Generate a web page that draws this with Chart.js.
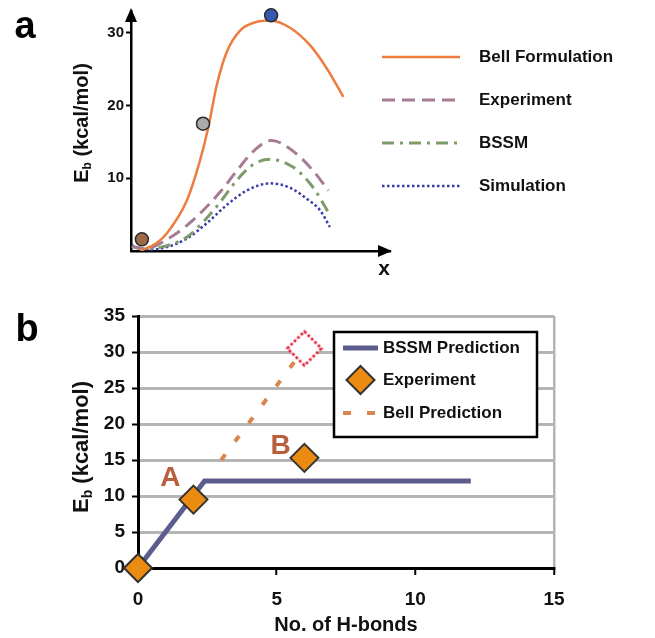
<!DOCTYPE html>
<html>
<head>
<meta charset="utf-8">
<title>Energy barrier vs number of H-bonds</title>
<script src="https://cdn.jsdelivr.net/npm/chart.js@4.4.1/dist/chart.umd.min.js"></script>
<style>
  body { margin: 0; background: #fff; }
  #wrap { position: relative; width: 655px; height: 638px; }
  canvas { position: absolute; left: 0; }
</style>
</head>
<body>
<div id="wrap">
  <canvas id="chartA" width="655" height="290" style="top:0"></canvas>
  <canvas id="chartB" width="655" height="348" style="top:290px"></canvas>
</div>
<script>
// panel a - sketch of the energy landscape (arbitrary x)
var bellX = [0.35, 0.99, 1.38, 2.15, 2.66, 2.98, 3.31, 3.69, 4.21, 4.85, 5.37, 6.14, 6.91, 7.56, 8.20];
var bellY = [0.0, 1.1, 2.4, 6.9, 12.4, 16.9, 22.8, 27.3, 30.3, 31.5, 31.7, 30.7, 28.3, 25.1, 21.2];
var expX = [0.03, 0.54, 1.44, 2.15, 2.79, 3.44, 4.08, 4.72, 5.42, 6.27, 7.04, 7.62];
var expY = [0.6, 0.3, 1.7, 3.5, 5.6, 8.1, 11.0, 13.7, 15.2, 13.7, 11.0, 8.3];
var bssmX = [0.03, 0.54, 1.24, 2.15, 2.79, 3.44, 4.08, 4.72, 5.37, 6.27, 7.04, 7.62];
var bssmY = [0.6, 0.3, 0.6, 1.9, 4.0, 6.7, 9.7, 11.9, 12.6, 11.5, 8.7, 5.3];
var simX = [0.03, 0.54, 1.24, 2.15, 2.92, 3.69, 4.46, 5.37, 6.14, 6.78, 7.30, 7.68];
var simY = [0.8, 0.2, 0.4, 1.7, 3.8, 6.3, 8.3, 9.3, 8.7, 7.2, 5.6, 3.3];
var dotX = [0.42, 2.78, 5.41];
var dotY = [1.6, 17.5, 32.4];
var dotColors = ['#9b6b48', '#ababab', '#3658b0'];

// panel b - Eb vs number of H-bonds
var bssmLineX = [0, 2.4, 12];
var bssmLineY = [0, 12.1, 12.1];
var hbondsExp = [0, 2, 6];
var ebExp = [0, 9.5, 15.3];
var bellLineX = [3, 6];
var bellLineY = [15, 30.5];
var tagText = ['A', 'B'];
var tagX = [1.17, 5.14];
var tagY = [12.5, 16.9];

var FONT = 'Arial, "Liberation Sans", sans-serif';
Chart.defaults.font.family = FONT;

function pts(xs, ys) {
  return xs.map(function (x, i) { return { x: x, y: ys[i] }; });
}

// dotted red diamond used as the end marker of the Bell prediction
var redDiamond = document.createElement('canvas');
redDiamond.width = 40; redDiamond.height = 40;
(function () {
  var c = redDiamond.getContext('2d');
  c.beginPath();
  c.moveTo(20, 3); c.lineTo(37, 20); c.lineTo(20, 37); c.lineTo(3, 20); c.closePath();
  c.fillStyle = '#fff'; c.fill();
  c.setLineDash([2.6, 2.2]);
  c.lineWidth = 2.6; c.strokeStyle = '#e0102a'; c.stroke();
})();

function drawEb(ctx, cx, cy, size) {
  var big = 'bold ' + size + 'px ' + FONT;
  var small = 'bold ' + Math.round(size * 0.62) + 'px ' + FONT;
  var rest = ' (kcal/mol)';
  ctx.save();
  ctx.translate(cx, cy);
  ctx.rotate(-Math.PI / 2);
  ctx.font = big;
  var wE = ctx.measureText('E').width, wR = ctx.measureText(rest).width;
  ctx.font = small;
  var wb = ctx.measureText('b').width;
  var x = -(wE + wb + wR) / 2;
  ctx.fillStyle = '#111';
  ctx.textBaseline = 'middle';
  ctx.font = big; ctx.fillText('E', x, 0);
  ctx.font = small; ctx.fillText('b', x + wE, size * 0.3);
  ctx.font = big; ctx.fillText(rest, x + wE + wb, 0);
  ctx.restore();
}

var yTitle = {
  id: 'yTitle',
  afterDraw: function (chart, args, o) { drawEb(chart.ctx, o.x, o.y, o.size); }
};

var panelTag = {
  id: 'panelTag',
  afterDraw: function (chart, args, o) {
    var ctx = chart.ctx;
    ctx.save();
    ctx.font = 'bold ' + o.size + 'px ' + FONT;
    ctx.fillStyle = '#000';
    ctx.textAlign = 'center';
    ctx.textBaseline = 'alphabetic';
    ctx.fillText(o.text, o.x, o.y);
    ctx.restore();
  }
};

var boxLegend = {
  id: 'boxLegend',
  afterDatasetsDraw: function (chart, args, o) {
    var ctx = chart.ctx;
    ctx.save();
    if (o.box) {
      ctx.fillStyle = '#fff';
      ctx.fillRect(o.box[0], o.box[1], o.box[2], o.box[3]);
      ctx.lineWidth = 2.5;
      ctx.strokeStyle = '#000';
      ctx.strokeRect(o.box[0], o.box[1], o.box[2], o.box[3]);
    }
    o.items.forEach(function (it) {
      var ds = chart.data.datasets[it.ds];
      if (it.radius) {
        ctx.setLineDash([]);
        ctx.fillStyle = ds.pointBackgroundColor;
        ctx.strokeStyle = ds.pointBorderColor;
        ctx.lineWidth = ds.pointBorderWidth;
        Chart.helpers.drawPoint(ctx, { pointStyle: ds.pointStyle, radius: it.radius, rotation: 0, borderWidth: ds.pointBorderWidth }, (o.x0 + o.x1) / 2, it.y);
      } else {
        ctx.strokeStyle = ds.borderColor;
        ctx.lineWidth = ds.borderWidth;
        ctx.lineCap = 'butt';
        ctx.setLineDash(it.dash || ds.borderDash || []);
        ctx.beginPath();
        ctx.moveTo(o.x0, it.y);
        ctx.lineTo(o.x1, it.y);
        ctx.stroke();
      }
      ctx.setLineDash([]);
      ctx.fillStyle = '#111';
      ctx.font = o.font;
      ctx.textAlign = 'left';
      ctx.textBaseline = 'middle';
      ctx.fillText(ds.label, o.textX, it.y);
    });
    ctx.restore();
  }
};

var axisArrows = {
  id: 'axisArrows',
  afterDraw: function (chart) {
    var a = chart.chartArea, ctx = chart.ctx;
    ctx.save();
    ctx.fillStyle = '#000';
    ctx.beginPath();
    ctx.moveTo(a.left, a.top - 3); ctx.lineTo(a.left - 6, a.top + 11); ctx.lineTo(a.left + 6, a.top + 11);
    ctx.closePath(); ctx.fill();
    ctx.beginPath();
    ctx.moveTo(a.right + 2, a.bottom); ctx.lineTo(a.right - 12, a.bottom - 6); ctx.lineTo(a.right - 12, a.bottom + 6);
    ctx.closePath(); ctx.fill();
    ctx.restore();
  }
};

var pointTags = {
  id: 'pointTags',
  afterDatasetsDraw: function (chart) {
    var ctx = chart.ctx, xs = chart.scales.x, ys = chart.scales.y;
    ctx.save();
    ctx.font = 'bold 28px ' + FONT;
    ctx.fillStyle = '#b85f3c';
    ctx.textAlign = 'center';
    ctx.textBaseline = 'middle';
    tagText.forEach(function (t, i) {
      ctx.fillText(t, xs.getPixelForValue(tagX[i]), ys.getPixelForValue(tagY[i]));
    });
    ctx.restore();
  }
};

var chartA = new Chart(document.getElementById('chartA'), {
  type: 'line',
  data: {
    datasets: [{
      label: 'Bell Formulation',
      data: pts(bellX, bellY),
      borderColor: '#ee7c3e',
      borderWidth: 2.5,
      cubicInterpolationMode: 'monotone',
      pointRadius: 0
    }, {
      label: 'Experiment',
      data: pts(expX, expY),
      borderColor: '#a67c94',
      borderWidth: 3,
      borderDash: [13, 7],
      cubicInterpolationMode: 'monotone',
      pointRadius: 0
    }, {
      label: 'BSSM',
      data: pts(bssmX, bssmY),
      borderColor: '#7e9c6b',
      borderWidth: 3,
      borderDash: [12, 6, 3, 6],
      cubicInterpolationMode: 'monotone',
      pointRadius: 0
    }, {
      label: 'Simulation',
      data: pts(simX, simY),
      borderColor: '#3b3bab',
      borderWidth: 2.5,
      borderDash: [2.5, 2.5],
      cubicInterpolationMode: 'monotone',
      pointRadius: 0
    }, {
      label: 'states',
      data: pts(dotX, dotY),
      showLine: false,
      order: -1,
      clip: false,
      pointRadius: 6.5,
      pointBackgroundColor: dotColors,
      pointBorderColor: '#2b2b2b',
      pointBorderWidth: 1.5
    }]
  },
  options: {
    responsive: false,
    animation: false,
    devicePixelRatio: 1,
    layout: { padding: { left: 0, top: 8, right: 265, bottom: 0 } },
    scales: {
      x: {
        type: 'linear',
        min: 0,
        max: 10,
        afterFit: function (s) { s.height = 39; },
        grid: { display: false },
        ticks: { display: false },
        border: { color: '#000', width: 2.5 },
        title: { display: true, text: 'x', align: 'end', color: '#111', font: { size: 21, weight: 'bold' }, padding: { top: 0, bottom: 8 } }
      },
      y: {
        min: 0,
        max: 33,
        afterFit: function (s) { s.width = 131; },
        grid: {
          drawOnChartArea: false,
          tickLength: 5,
          tickWidth: 2,
          tickColor: function (c) { return c.tick && c.tick.value === 0 ? 'rgba(0,0,0,0)' : '#000'; }
        },
        border: { color: '#000', width: 2.5 },
        ticks: {
          stepSize: 10,
          includeBounds: false,
          padding: 2,
          color: '#111',
          font: { size: 15, weight: 'bold' },
          callback: function (v) { return v === 0 ? '' : v; }
        }
      }
    },
    plugins: {
      legend: { display: false },
      tooltip: { enabled: false },
      yTitle: { x: 82, y: 123, size: 20 },
      panelTag: { text: 'a', x: 25, y: 38, size: 38 },
      boxLegend: {
        box: null, x0: 382, x1: 460, textX: 479, font: 'bold 17px ' + FONT,
        items: [{ ds: 0, y: 57 }, { ds: 1, y: 100 }, { ds: 2, y: 143 }, { ds: 3, y: 186 }]
      }
    }
  },
  plugins: [yTitle, panelTag, boxLegend, axisArrows]
});

var gridGray = '#b5b5b5';
var chartB = new Chart(document.getElementById('chartB'), {
  type: 'scatter',
  data: {
    datasets: [{
      label: 'BSSM Prediction',
      data: pts(bssmLineX, bssmLineY),
      showLine: true,
      order: 2,
      clip: false,
      borderColor: '#5c5c8e',
      borderWidth: 5,
      pointRadius: 0
    }, {
      label: 'Experiment',
      data: pts(hbondsExp, ebExp),
      showLine: false,
      order: 1,
      clip: false,
      pointStyle: 'rectRot',
      pointRadius: 14,
      pointBackgroundColor: '#ec8b12',
      pointBorderColor: '#333',
      pointBorderWidth: 2
    }, {
      label: 'Bell Prediction',
      data: pts(bellLineX, bellLineY),
      showLine: true,
      order: 3,
      clip: false,
      borderColor: '#d9854f',
      borderWidth: 4,
      borderDash: [7, 16],
      pointStyle: ['circle', redDiamond],
      pointRadius: [0, 17]
    }]
  },
  options: {
    responsive: false,
    animation: false,
    devicePixelRatio: 1,
    layout: { padding: { left: 0, top: 26, right: 101, bottom: 0 } },
    scales: {
      x: {
        type: 'linear',
        min: 0,
        max: 15,
        afterFit: function (s) { s.height = 70; },
        grid: {
          drawOnChartArea: true,
          lineWidth: 2.5,
          color: function (c) { return c.tick && c.tick.value === 15 ? gridGray : 'rgba(0,0,0,0)'; },
          tickColor: '#000',
          tickLength: 7,
          tickWidth: 2
        },
        border: { color: '#000', width: 3 },
        ticks: { stepSize: 5, padding: 13, color: '#111', font: { size: 19, weight: 'bold' } },
        title: { display: true, text: 'No. of H-bonds', color: '#111', font: { size: 20, weight: 'bold' }, padding: { top: 0, bottom: 1 } }
      },
      y: {
        min: 0,
        max: 35,
        afterFit: function (s) { s.width = 138; },
        grid: {
          lineWidth: 3,
          color: function (c) { return c.tick && c.tick.value === 0 ? 'rgba(0,0,0,0)' : gridGray; },
          tickColor: '#000',
          tickLength: 6,
          tickWidth: 2
        },
        border: { color: '#000', width: 3 },
        ticks: { stepSize: 5, padding: 7, color: '#111', font: { size: 19, weight: 'bold' } }
      }
    },
    plugins: {
      legend: { display: false },
      tooltip: { enabled: false },
      yTitle: { x: 82, y: 157, size: 22 },
      panelTag: { text: 'b', x: 27, y: 51, size: 38 },
      boxLegend: {
        box: [334, 42, 203, 105], x0: 343, x1: 378, textX: 383, font: 'bold 17px ' + FONT,
        items: [{ ds: 0, y: 58 }, { ds: 1, y: 90, radius: 14 }, { ds: 2, y: 123, dash: [8, 16] }]
      }
    }
  },
  plugins: [yTitle, panelTag, boxLegend, pointTags]
});
</script>
</body>
</html>
